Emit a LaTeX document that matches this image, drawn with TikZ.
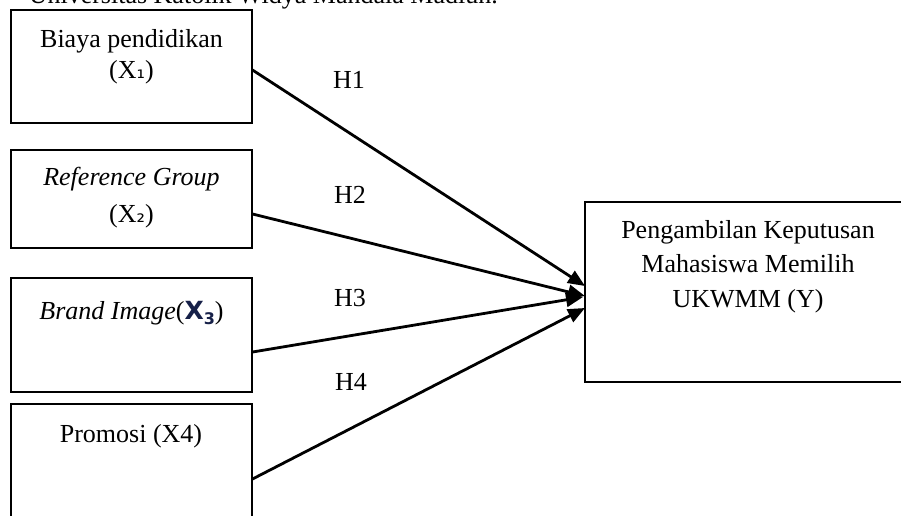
\documentclass[tikz,border=0pt]{standalone}
\usepackage{fontspec}
\setmainfont{Liberation Serif}
\newfontfamily\subfont{DejaVu Sans}
\newfontfamily\mathlikefont{DejaVu Sans}
\usetikzlibrary{arrows.meta}
\definecolor{xnavy}{RGB}{22,32,72}
\begin{document}
\begin{tikzpicture}[x=1pt,y=-1pt,
  box/.style={draw=black, line width=2pt, rectangle, inner sep=0pt},
  txt/.style={font=\fontsize{26}{35}\selectfont, inner sep=0pt, anchor=base},
  link/.style={line width=2.8pt, -{Triangle[length=17pt,width=14pt]}}]
\useasboundingbox (0,0) rectangle (901,515);
\clip (0,0) rectangle (901,515);
% heading cut at top
\node[txt, anchor=base east] (head) at (498,3) {Universitas Katolik Widya Mandala Madiun.};
% boxes
\node[box, minimum width=241pt, minimum height=113pt] (b1) at (131.5,66.5) {};
\node[box, minimum width=241pt, minimum height=98pt] (b2) at (131.5,199) {};
\node[box, minimum width=241pt, minimum height=114pt] (b3) at (131.5,335) {};
\node[box, minimum width=241pt, minimum height=140pt] (b4) at (131.5,474) {};
\node[box, minimum width=340pt, minimum height=180pt] (y) at (755,292) {};
% texts
\node[txt] (t1a) at (131.5,47) {Biaya pendidikan};
\node[txt] (t1b) at (131.5,78) {(X{\subfont\fontsize{21}{24}\selectfont ₁})};
\node[txt] (t2a) at (131.5,185) {\textit{Reference Group}};
\node[txt] (t2b) at (131.5,222) {(X{\subfont\fontsize{21}{24}\selectfont ₂})};
\node[txt] (t3) at (131.5,319) {\textit{Brand Image}({\color{xnavy}\mathlikefont\bfseries\fontsize{25}{30}\selectfont X\raisebox{-5pt}{\fontsize{16}{18}\selectfont 3}})};
\node[txt] (t4) at (131,442) {Promosi (X4)};
\node[txt] (ya) at (748,238) {Pengambilan Keputusan};
\node[txt] (yb) at (748,272) {Mahasiswa Memilih};
\node[txt] (yc) at (748,307) {UKWMM (Y)};
% hypothesis labels
\node[txt, anchor=base west] (h1) at (333,88) {H1};
\node[txt, anchor=base west] (h2) at (334,203) {H2};
\node[txt, anchor=base west] (h3) at (334,306) {H3};
\node[txt, anchor=base west] (h4) at (335,390) {H4};
% connector end points
\coordinate (s1) at (252.5,70);
\coordinate (s2) at (252.5,214);
\coordinate (s3) at (252.5,352);
\coordinate (s4) at (252.5,479);
\coordinate (e1) at (585,286);
\coordinate (e2) at (585,296);
\coordinate (e3) at (583,297);
\coordinate (e4) at (585,308);
\draw[link] (s1) -- (e1);
\draw[link] (s2) -- (e2);
\draw[link] (s3) -- (e3);
\draw[link] (s4) -- (e4);
\end{tikzpicture}
\end{document}
